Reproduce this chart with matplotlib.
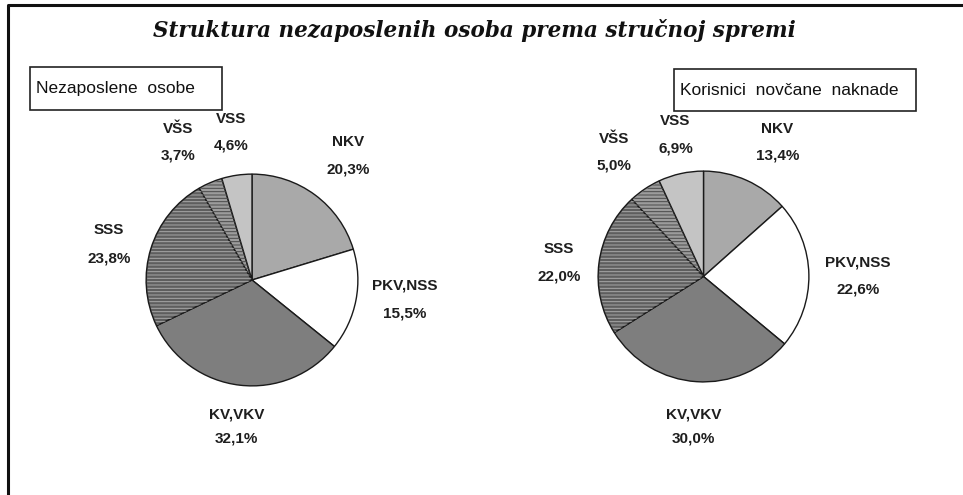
import numpy as np
import matplotlib
matplotlib.use("Agg")
import matplotlib.pyplot as plt
from matplotlib.patches import Rectangle
from matplotlib.lines import Line2D

plt.rcParams["font.family"] = ["Liberation Sans", "DejaVu Sans"]
plt.rcParams["hatch.linewidth"] = 0.7

categories = ["NKV", "PKV,NSS", "KV,VKV", "SSS", "VŠS", "VSS"]
nezaposlene = [20.3, 15.5, 32.1, 23.8, 3.7, 4.6]
korisnici = [13.4, 22.6, 30.0, 22.0, 5.0, 6.9]
titles = ["Nezaposlene  osobe", "Korisnici  novčane  naknade"]

colors = ["#a9a9a9", "#ffffff", "#7e7e7e", "#5e5e5e", "#9c9c9c", "#c4c4c4"]
hatches = ["", "", "", "-----", "-----", ""]
hatch_colors = ["none", "none", "none", "#a8a8a8", "#4a4a4a", "none"]

W, H = 963, 495
fig = plt.figure(figsize=(W / 100, H / 100), dpi=100)

def px_axes(cx, cy, r):
    return fig.add_axes([(cx - r) / W, 1 - (cy + r) / H, 2 * r / W, 2 * r / H])

# label centres in pixels: (x, y of name, y of percent)
label_px = [
    [(350, 139, 167), (408, 286, 314), (236, 417, 442), (106, 229, 258),
     (177, 126, 153), (231, 116, 143)],
    [(779, 126, 153), (861, 262, 290), (693, 417, 442), (556, 248, 277),
     (612, 136, 163), (675, 118, 146)],
]
centers = [(252, 280, 108), (703.5, 276.5, 107.5)]

for i, vals in enumerate([nezaposlene, korisnici]):
    cx, cy, r = centers[i]
    ax = px_axes(cx, cy, r)
    ax.pie(vals, colors=colors, startangle=90, counterclock=False, radius=1,
           wedgeprops=dict(edgecolor="#1a1a1a", linewidth=1.0))
    # hatch overlay
    over, _ = ax.pie(vals, colors=["none"] * len(vals), startangle=90,
                     counterclock=False, radius=0.99,
                     wedgeprops=dict(linewidth=0))
    for w, h, hc in zip(over, hatches, hatch_colors):
        if h:
            w.set_hatch(h)
            w.set_edgecolor(hc)
            w.set_facecolor("none")
    ax.set_xlim(-1.02, 1.02); ax.set_ylim(-1.02, 1.02)
    ax.set_aspect("equal")
    ax.axis("off")
    for (lx, ly, py), cat, v in zip(label_px[i], categories, vals):
        ax.text((lx - cx) / r, -(ly - cy) / r, cat, ha="center", va="center",
                fontsize=11, fontweight="bold", color="#1e1e1e", clip_on=False)
        ax.text((lx - cx) / r, -(py - cy) / r, f"{v:.1f}%".replace(".", ","),
                ha="center", va="center", fontsize=11, fontweight="bold",
                color="#1e1e1e", clip_on=False)

fig.text(474 / W, 1 - 31 / H, "Struktura nezaposlenih osoba prema stručnoj spremi",
         ha="center", va="center", fontsize=15.5, fontweight="bold",
         style="italic", family="DejaVu Serif", color="#111111")

# subtitle boxes
for (x0, y0, x1, y1), t in zip([(30, 67, 222, 110), (674, 69, 916, 111)], titles):
    fig.patches.append(Rectangle((x0 / W, 1 - y1 / H), (x1 - x0) / W, (y1 - y0) / H,
                                 transform=fig.transFigure, fill=False,
                                 edgecolor="#222222", linewidth=1.2))
    fig.text((x0 + 6) / W, 1 - ((y0 + y1) / 2) / H, t, ha="left", va="center",
             fontsize=12.5, color="#111111")

# frame (top and left edges)
fig.lines.append(Line2D([8 / W, 8 / W, 1], [0, 1 - 5 / H, 1 - 5 / H],
                        transform=fig.transFigure, color="#111111", linewidth=2.2))

fig.savefig("out.png", dpi=100)
